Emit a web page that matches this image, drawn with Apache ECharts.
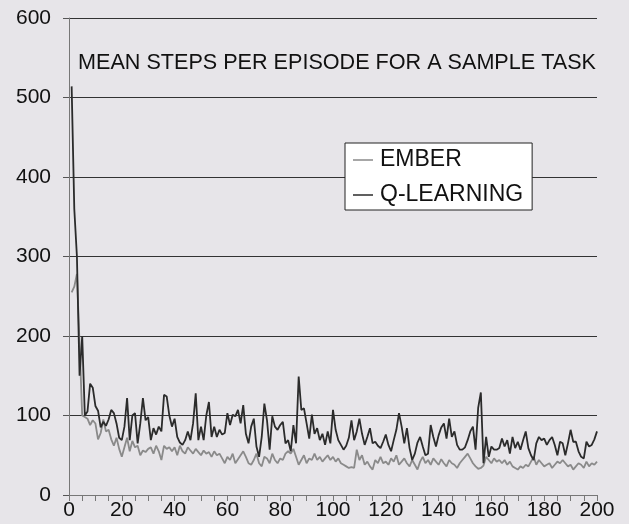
<!DOCTYPE html>
<html>
<head>
<meta charset="utf-8">
<script src="https://cdn.jsdelivr.net/npm/echarts@6/dist/echarts.min.js"></script>
<style>
html,body{margin:0;padding:0;background:#e7e5e9;}
#c{width:629px;height:524px;}
</style>
</head>
<body>
<div id="c"></div>
<script>
var titleText = 'MEAN STEPS PER EPISODE FOR A SAMPLE TASK';
var seriesNames = ['EMBER', 'Q-LEARNING'];
var xTicks = [0, 20, 40, 60, 80, 100, 120, 140, 160, 180, 200];
var yTicks = [0, 100, 200, 300, 400, 500, 600];

// values for episodes 1..200
var emberValues = [
255,262,278,190,100,98,96,88,94,90,
70,78,95,80,82,70,62,72,58,48,
60,72,55,68,60,62,50,56,54,58,
60,52,62,55,44,62,58,60,55,60,
50,62,55,52,60,56,52,58,54,50,
56,52,54,48,55,50,52,46,40,48,
44,52,40,45,50,55,48,40,38,44,
52,40,36,48,46,40,52,44,40,46,
44,52,55,52,58,48,38,44,50,40,
46,44,52,44,48,42,46,50,44,48,
42,46,40,38,36,34,35,34,57,44,
50,38,42,36,32,44,40,48,40,42,
38,46,42,50,38,42,46,40,36,44,
38,32,42,48,40,44,38,46,42,38,
45,40,36,44,40,38,34,40,44,48,
52,46,40,36,33,34,37,48,44,40,
46,42,44,40,44,38,42,36,34,32,
36,34,38,36,42,48,38,44,40,36,
38,40,34,38,42,40,44,40,36,38,
32,36,40,38,34,42,36,40,38,42
];
var qValues = [
514,360,300,150,200,100,105,140,135,112,
106,85,92,87,95,107,103,90,72,69,
86,122,69,100,103,65,90,122,94,98,
69,84,76,86,80,126,124,100,86,96,
73,66,63,69,80,69,90,128,69,86,
69,100,117,73,86,73,82,76,78,103,
88,101,99,107,90,113,77,65,86,96,
61,48,73,115,94,57,99,86,82,88,
92,65,69,55,88,65,149,107,109,90,
71,101,77,84,69,77,63,80,65,107,
82,69,63,57,62,72,94,69,80,96,
77,63,73,84,65,67,62,59,67,76,
63,55,69,82,103,86,65,84,59,44,
52,66,73,61,50,52,88,73,61,75,
85,90,71,96,73,80,63,57,57,60,
69,80,86,57,110,129,40,73,48,61,
57,57,59,71,61,69,52,73,59,67,
57,69,80,59,50,44,65,73,69,71,
63,69,73,63,50,67,65,50,65,82,
67,67,55,48,46,67,61,63,70,80
];

function pairs(vals){
  var out = [];
  for (var i = 0; i < vals.length; i++) out.push([i + 1, vals[i]]);
  return out;
}

var chart = echarts.init(document.getElementById('c'), null, {renderer:'canvas'});
var font = 'Liberation Sans, Arial, sans-serif';
chart.setOption({
  backgroundColor: '#e7e5e9',
  animation: false,
  grid: {left: 69, right: 32, top: 18, bottom: 29, containLabel: false},
  title: {
    text: titleText, left: 73, top: 47,
    textStyle: {fontFamily: font, fontSize: 21.6, fontWeight: 'normal', color: '#111'}
  },
  legend: {
    data: seriesNames,
    orient: 'vertical',
    left: 345, top: 143,
    backgroundColor: '#ffffff',
    borderColor: '#222', borderWidth: 1,
    padding: [5, 9, 3, 8],
    itemGap: 11,
    itemWidth: 20, itemHeight: 1.5,
    icon: 'rect',
    textStyle: {fontFamily: font, fontSize: 23, color: '#111', lineHeight: 24, padding: [0,0,0,2]}
  },
  xAxis: {
    type: 'value', min: xTicks[0], max: xTicks[xTicks.length - 1], interval: 20,
    axisLine: {show: true, lineStyle: {color: '#777', width: 1}},
    axisTick: {show: true, length: 6, lineStyle: {color: '#777'}},
    minorTick: {show: true, splitNumber: 4, length: 6, lineStyle: {color: '#777'}},
    splitLine: {show: false},
    axisLabel: {fontFamily: font, fontSize: 21, color: '#111', margin: 5}
  },
  yAxis: {
    type: 'value', min: yTicks[0], max: yTicks[yTicks.length - 1], interval: 100,
    axisLine: {show: true, lineStyle: {color: '#777', width: 1}},
    axisTick: {show: true, length: 6, lineStyle: {color: '#555'}},
    splitLine: {show: true, lineStyle: {color: '#333', width: 1}},
    axisLabel: {fontFamily: font, fontSize: 21, color: '#111', margin: 18}
  },
  series: [
    {name: seriesNames[0], type: 'line', data: pairs(emberValues), showSymbol: false, symbol: 'none',
     color: '#8a8a8a', lineStyle: {color: '#8a8a8a', width: 1.8}, z: 2},
    {name: seriesNames[1], type: 'line', data: pairs(qValues), showSymbol: false, symbol: 'none',
     color: '#2b2b2b', lineStyle: {color: '#2b2b2b', width: 1.8}, z: 3}
  ]
});
</script>
</body>
</html>
